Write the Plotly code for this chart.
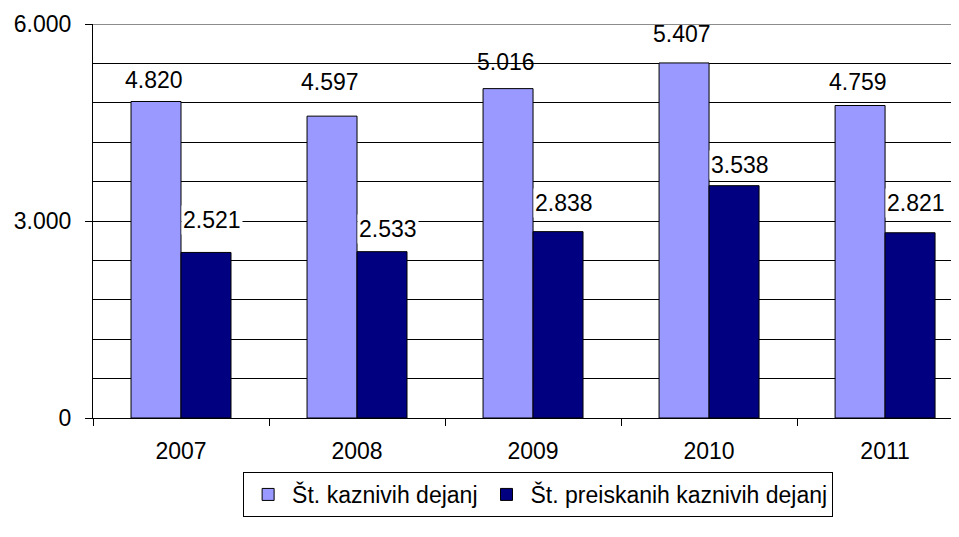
import plotly.graph_objects as go

years = ["2007", "2008", "2009", "2010", "2011"]
kazniva = [4820, 4597, 5016, 5407, 4759]
preiskana = [2521, 2533, 2838, 3538, 2821]
series_names = ["Št. kaznivih dejanj", "Št. preiskanih kaznivih dejanj"]
y_tick_vals = [0, 3000, 6000]
y_tick_text = ["0", "3.000", "6.000"]

# label vertical offsets (px above bar top), style only
light_off = [21, 34, 27, 29, 23]
dark_off = [32, 23, 29, 21, 30]

FONT = "Liberation Sans, Arial, sans-serif"
FS = 23


def fmt(v):
    return f"{v:,}".replace(",", ".")


fig = go.Figure()
fig.add_trace(go.Bar(x=years, y=kazniva, name=series_names[0],
                     marker=dict(color="#9999FF", line=dict(color="black", width=1))))
fig.add_trace(go.Bar(x=years, y=preiskana, name=series_names[1],
                     marker=dict(color="#000080", line=dict(color="black", width=1))))

ann = []
for i, v in enumerate(kazniva):
    ann.append(dict(x=i, y=v, text=fmt(v), showarrow=False, xref="x", yref="y",
                    xanchor="center", yanchor="middle", xshift=-27, yshift=light_off[i],
                    font=dict(family=FONT, size=FS, color="black")))
for i, v in enumerate(preiskana):
    ann.append(dict(x=i, y=v, text=fmt(v), showarrow=False, xref="x", yref="y",
                    xanchor="left", yanchor="middle", xshift=0, yshift=dark_off[i],
                    bgcolor="white", borderpad=1,
                    font=dict(family=FONT, size=FS, color="black")))

fig.update_layout(
    width=951, height=529,
    margin=dict(l=85, r=0, t=16, b=119),
    paper_bgcolor="white", plot_bgcolor="white",
    barmode="group", bargap=0.432, bargroupgap=0,
    font=dict(family=FONT, size=FS, color="black"),
    showlegend=True,
    legend=dict(orientation="h", x=0.514, xanchor="center", y=-0.137, yanchor="top",
                bordercolor="black", borderwidth=1, bgcolor="white",
                font=dict(family=FONT, size=FS, color="black"),
                itemwidth=38, traceorder="normal"),
    annotations=ann,
    shapes=[dict(type="line", xref="paper", yref="y", x0=0, x1=1, y0=6000, y1=6000,
                 line=dict(color="#8c8c8c", width=2), layer="above")],
)
fig.update_xaxes(type="category", range=[-0.5, 4.42], showline=True, linecolor="black",
                 linewidth=1, ticks="outside", tickson="boundaries", ticklen=7,
                 tickcolor="black", showgrid=False, zeroline=False,
                 ticklabelstandoff=12,
                 tickfont=dict(family=FONT, size=FS, color="black"))
fig.update_yaxes(range=[0, 6000], tickvals=y_tick_vals, ticktext=y_tick_text,
                 showline=True, linecolor="black", linewidth=1, ticks="outside",
                 ticklen=7, tickcolor="black", showgrid=True, gridcolor="black",
                 gridwidth=1, zeroline=False, ticklabelstandoff=9,
                 minor=dict(dtick=600, showgrid=True, gridcolor="black", gridwidth=1),
                 tickfont=dict(family=FONT, size=FS, color="black"))

fig.write_html("out.html")
